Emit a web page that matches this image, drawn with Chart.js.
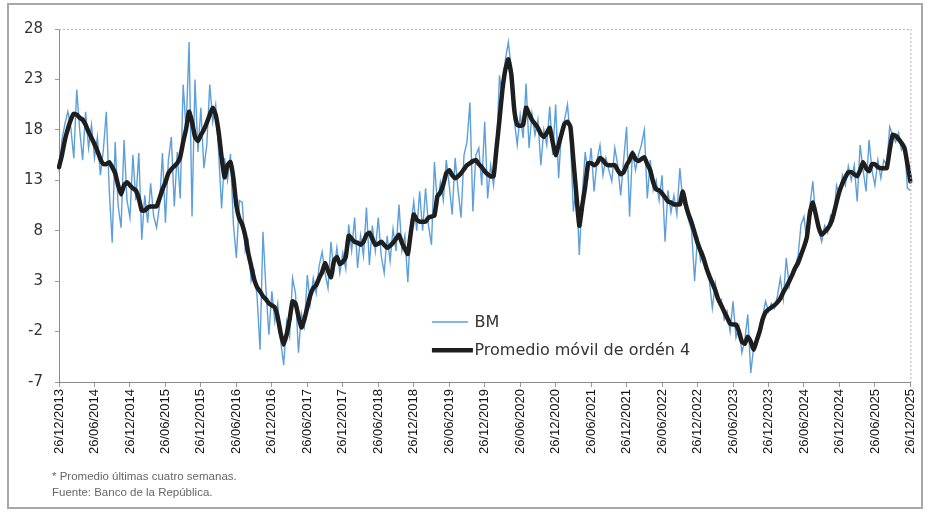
<!DOCTYPE html>
<html>
<head>
<meta charset="utf-8">
<script src="https://cdn.jsdelivr.net/npm/chart.js@4/dist/chart.umd.min.js"></script>
<style>
  html, body { margin:0; padding:0; background:#fff; }
  #wrap { position:relative; width:928px; height:513px; overflow:hidden; background:#fff; }
  #frame { position:absolute; left:7px; top:3px; width:916px; height:506px; border:2px solid #a8a8a8; box-sizing:border-box; }
  canvas { position:absolute; left:0; top:0; }
  .note { position:absolute; left:52px; font-family:"Liberation Sans", Arial, sans-serif; font-size:11.5px; color:#666; white-space:nowrap; }
</style>
</head>
<body>
<div id="wrap">
  <div id="frame"></div>
  <canvas id="c" width="928" height="513"></canvas>
  <div class="note" style="top:470px;">* Promedio últimas cuatro semanas.</div>
  <div class="note" style="top:486px;">Fuente: Banco de la República.</div>
</div>
<script>
// Tick labels on the x axis (every six months)
const xTickLabels = ["26/12/2013","26/06/2014","26/12/2014","26/06/2015","26/12/2015","26/06/2016","26/12/2016","26/06/2017","26/12/2017","26/06/2018","26/12/2018","26/06/2019","26/12/2019","26/06/2020","26/12/2020","26/06/2021","26/12/2021","26/06/2022","26/12/2022","26/06/2023","26/12/2023","26/06/2024","26/12/2024","26/06/2025","26/12/2025"];
// y-axis tick values
const yTicks = [-7, -2, 3, 8, 13, 18, 23, 28];
const seriesNames = ["BM", "Promedio móvil de ordén 4"];

// BM (semi-monthly readings)
const bmValues = [
 13.8,17.0,18.6,19.8,18.2,15.2,22.0,18.0,15.0,19.8,16.2,18.5,
 15.2,17.3,13.5,16.0,19.8,12.0,6.8,16.8,10.5,8.3,17.0,11.0,
 9.3,15.5,11.0,15.7,7.1,11.5,8.8,12.7,9.5,8.3,10.5,15.7,
 8.8,15.0,17.3,10.4,15.8,11.2,22.5,18.0,26.7,9.4,23.0,15.8,
 20.2,14.2,16.5,22.5,18.8,20.5,15.8,10.2,15.2,13.0,15.6,8.6,
 5.3,11.0,10.8,6.0,7.0,3.0,4.0,1.5,-3.8,7.9,2.2,-2.3,
 2.0,-1.0,0.8,-3.0,-5.3,-1.0,-2.5,3.3,1.8,-4.1,-0.2,-1.5,
 3.6,0.8,3.3,1.8,4.5,5.9,3.8,2.3,6.9,4.0,6.3,3.8,
 5.8,4.2,8.6,6.0,9.3,4.3,7.5,5.5,10.3,4.6,8.5,6.0,
 9.3,5.5,3.8,7.5,5.0,8.2,6.0,10.6,6.0,7.5,2.9,8.5,
 10.9,8.0,11.9,8.0,12.2,8.5,6.6,14.8,10.5,12.8,11.0,15.0,
 12.5,9.6,15.2,12.0,9.3,15.5,16.8,20.7,9.9,15.5,16.2,12.5,
 18.8,11.2,14.5,12.5,16.0,23.4,21.0,25.0,26.7,24.0,19.0,16.5,
 19.5,17.2,22.6,16.2,19.6,17.5,19.0,14.5,18.0,16.5,20.3,15.5,
 20.5,13.2,18.0,19.0,20.5,17.0,9.9,12.5,5.6,11.5,15.8,13.5,
 16.2,11.9,15.0,16.5,13.5,15.2,14.0,12.9,16.2,14.5,11.5,15.0,
 18.3,9.4,16.0,14.0,15.5,16.5,18.0,11.2,15.0,12.0,13.0,11.0,
 13.5,6.9,12.0,9.8,11.5,9.6,14.2,11.0,10.0,9.0,8.0,3.0,
 7.5,5.0,5.8,4.0,3.0,0.3,2.8,1.0,1.2,-0.8,0.0,-2.0,
 1.0,-2.6,-1.5,-4.1,-2.8,-0.3,-6.1,-3.5,-3.0,-1.5,-0.5,1.0,
 0.0,0.8,0.3,1.5,3.3,1.2,5.3,2.5,4.0,4.5,5.5,8.6,
 9.4,6.8,10.5,12.9,9.0,8.0,6.9,8.5,7.8,9.5,9.0,12.5,
 11.5,13.5,12.5,14.4,13.0,14.5,10.9,16.5,14.0,11.9,17.0,14.0,
 12.5,15.0,13.2,15.0,14.5,18.3,17.5,16.8,17.7,16.0,16.5,12.2,
 12.0
];

// Promedio móvil de orden 4 (semi-monthly readings)
const maValues = [
 14.3,15.5,17.0,18.1,19.0,19.6,19.5,19.2,19.0,18.5,17.8,17.2,
 16.6,15.9,15.1,14.6,14.6,14.8,14.3,13.7,12.5,11.6,12.5,12.8,
 12.5,12.2,12.0,11.2,10.0,10.0,10.3,10.4,10.4,10.4,11.2,12.1,
 12.8,13.7,14.1,14.4,14.7,15.3,16.8,18.1,19.8,18.8,17.3,16.9,
 17.5,18.0,18.7,19.5,20.2,19.5,17.8,15.3,13.3,14.5,14.8,13.2,
 10.5,9.2,8.6,7.5,5.8,4.5,3.2,2.4,2.0,1.5,1.2,0.8,
 0.6,0.4,-0.6,-2.2,-3.3,-2.3,-0.8,1.0,0.8,-0.5,-1.6,-0.8,
 0.4,1.6,2.3,2.6,3.3,3.9,4.8,4.0,3.4,5.0,5.4,4.7,
 4.9,5.4,7.5,7.2,6.9,6.8,6.6,6.9,7.6,7.8,7.2,6.6,
 6.7,6.9,6.6,6.3,6.5,6.8,7.2,7.6,6.8,6.2,5.7,7.8,
 9.6,9.1,8.9,8.9,8.9,9.3,9.4,9.5,11.4,11.8,12.6,13.7,
 14.0,13.5,13.2,13.4,13.7,14.1,14.5,14.7,14.9,15.0,14.6,14.3,
 13.9,13.6,13.4,13.4,16.2,19.0,22.0,24.0,25.0,23.5,20.0,18.5,
 18.4,18.5,20.2,19.6,19.0,18.6,18.2,17.6,17.3,17.7,18.2,16.8,
 15.5,16.5,17.6,18.6,18.8,18.3,15.0,11.6,8.5,10.5,12.4,14.7,
 14.7,14.5,14.7,15.2,15.0,14.6,14.5,14.5,14.5,14.0,13.6,13.8,
 14.5,15.0,15.7,15.1,14.9,15.1,15.3,14.6,14.0,12.8,12.1,12.0,
 11.7,11.3,10.9,10.8,10.6,10.6,10.6,11.9,10.6,9.6,8.8,7.8,
 6.8,6.0,5.3,4.3,3.5,2.8,2.1,1.2,0.6,0.0,-0.6,-1.2,
 -1.3,-1.3,-2.0,-3.0,-3.2,-2.5,-3.0,-3.8,-2.9,-2.0,-0.8,-0.1,
 0.2,0.4,0.6,0.9,1.3,1.9,2.4,3.0,3.6,4.3,4.8,5.6,
 6.4,7.4,9.8,10.8,9.6,8.3,7.6,7.9,8.2,8.7,9.6,10.8,
 11.9,12.7,13.3,13.8,13.8,13.6,13.4,14.0,14.8,14.2,13.9,14.6,
 14.6,14.3,14.2,14.2,14.2,16.0,17.5,17.4,17.1,16.7,16.2,14.6,
 12.9
];

// Category labels: semi-monthly dates between the first and last tick label
const categories = [];
(function(){
  for (let i = 0; i < bmValues.length; i++) {
    const m = 11 + Math.floor(i / 2);
    const y = 2013 + Math.floor(m / 12);
    const mo = (m % 12) + 1;
    const day = (i % 2 === 0) ? 26 : 11;
    const mm = (i % 2 === 0) ? mo : (mo % 12) + 1;
    const yy = (i % 2 === 0) ? y : (mo === 12 ? y + 1 : y);
    categories.push(String(day).padStart(2,'0') + '/' + String(mm).padStart(2,'0') + '/' + yy);
  }
})();
const TICK_EVERY = 12;

const frameAndLegend = {
  id: 'frameAndLegend',
  afterDraw(chart) {
    const ctx = chart.ctx, a = chart.chartArea;
    ctx.save();
    ctx.strokeStyle = '#b5b5b5';
    ctx.lineWidth = 1;
    ctx.setLineDash([2, 2]);
    ctx.beginPath();
    ctx.moveTo(a.left, a.top + 0.5); ctx.lineTo(a.right, a.top + 0.5);
    ctx.moveTo(a.right + 0.5, a.top); ctx.lineTo(a.right + 0.5, a.bottom);
    ctx.stroke();
    ctx.setLineDash([]);
    const ds = chart.data.datasets;
    const w = a.right - a.left, h = a.bottom - a.top;
    const lx = a.left + w * 0.438, tx = a.left + w * 0.488;
    const rows = [a.top + h * 0.83, a.top + h * 0.91];
    ctx.font = '16px "DejaVu Sans", sans-serif';
    ctx.textBaseline = 'middle';
    ds.forEach((d, k) => {
      const yy = rows[k];
      ctx.strokeStyle = d.borderColor;
      ctx.lineWidth = d.borderWidth;
      ctx.beginPath();
      ctx.moveTo(lx, yy); ctx.lineTo(lx + (k === 0 ? 36 : 41), yy);
      ctx.stroke();
      ctx.fillStyle = '#333';
      ctx.fillText(d.label, tx, yy + 1);
    });
    ctx.restore();
  }
};

new Chart(document.getElementById('c'), {
  type: 'line',
  data: {
    labels: categories,
    datasets: [
      { label: seriesNames[0], data: bmValues, borderColor: '#5d9fda', borderWidth: 1.4, pointRadius: 0, order: 1, tension: 0 },
      { label: seriesNames[1], data: maValues, borderColor: '#1e1e1e', borderWidth: 4.5, pointRadius: 0, order: 0, tension: 0.15, borderJoinStyle: 'round', borderCapStyle: 'round' }
    ]
  },
  options: {
    responsive: false,
    animation: false,
    events: [],
    layout: { padding: { left: 8, right: 15, top: 29, bottom: 56 } },
    plugins: { legend: { display: false }, tooltip: { enabled: false } },
    scales: {
      x: {
        type: 'category',
        offset: false,
        afterBuildTicks(scale) { scale.ticks = scale.ticks.filter(t => t.value % TICK_EVERY === 0); },
        afterFit(scale) { scale.height = 75; },
        grid: { display: true, drawOnChartArea: false, drawTicks: true, tickLength: 5, color: '#9a9a9a' },
        border: { display: true, color: '#8a8a8a', width: 1 },
        ticks: {
          autoSkip: false, maxRotation: 90, minRotation: 90, padding: 2,
          color: '#111', font: { family: '"Liberation Sans", Arial, sans-serif', size: 13 },
          callback(val) { return xTickLabels[Math.round(val / TICK_EVERY)]; }
        }
      },
      y: {
        min: yTicks[0], max: yTicks[yTicks.length - 1],
        afterBuildTicks(scale) { scale.ticks = yTicks.map(v => ({ value: v })); },
        afterFit(scale) { scale.width = 51; },
        grid: { display: true, drawOnChartArea: false, drawTicks: true, tickLength: 4, color: '#9a9a9a' },
        border: { display: true, color: '#8a8a8a', width: 1 },
        ticks: { padding: 12, color: '#333', font: { family: '"DejaVu Sans", sans-serif', size: 15 } }
      }
    }
  },
  plugins: [frameAndLegend]
});
</script>
</body>
</html>
